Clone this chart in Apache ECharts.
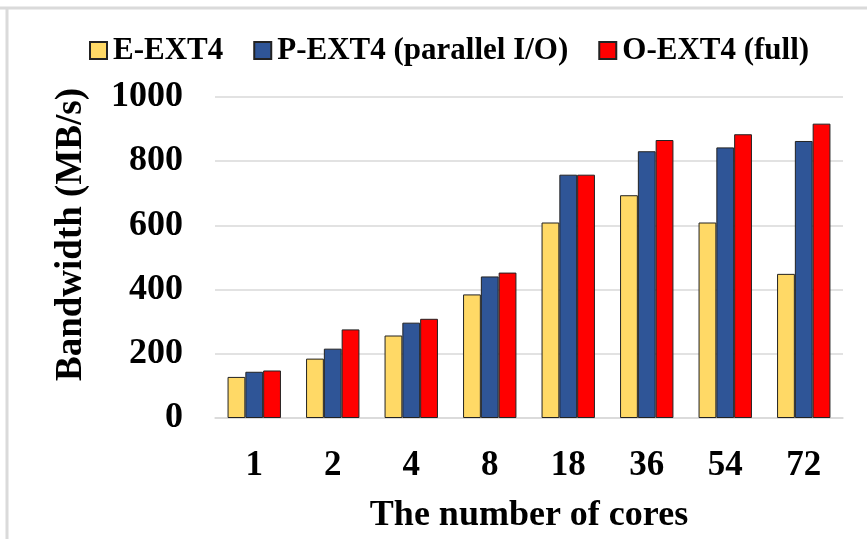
<!DOCTYPE html>
<html>
<head>
<meta charset="utf-8">
<script src="https://cdn.jsdelivr.net/npm/echarts@6/dist/echarts.min.js"></script>
<style>
  html, body { margin: 0; padding: 0; background: #fff; }
  #chart { width: 867px; height: 539px; }
</style>
</head>
<body>
<div id="chart"></div>
<script>
// cores on the x axis
var cores = ['1', '2', '4', '8', '18', '36', '54', '72'];
// bandwidth in MB/s
var eExt4 = [128, 185, 257, 385, 609, 694, 609, 449];
var pExt4 = [144, 216, 297, 441, 758, 831, 843, 863];
var oExt4 = [148, 276, 309, 453, 758, 866, 884, 917];
var seriesNames = ['E-EXT4', 'P-EXT4 (parallel I/O)', 'O-EXT4 (full)'];

var font = 'Liberation Serif, Times New Roman, serif';
var myChart = echarts.init(document.getElementById('chart'));

function bar(name, data, color) {
    return {
        name: name,
        type: 'bar',
        data: data,
        barGap: '0%',
        barCategoryGap: '32%',
        itemStyle: {
            color: color,
            borderColor: '#222',
            borderWidth: 1
        }
    };
}

var option = {
    animation: false,
    backgroundColor: '#fff',
    // grey frame from the original screenshot
    graphic: [
        { type: 'line', shape: { x1: 0, y1: 8, x2: 867, y2: 8 }, style: { stroke: '#dadada', lineWidth: 3 } },
        { type: 'line', shape: { x1: 7, y1: 8, x2: 7, y2: 539 }, style: { stroke: '#dadada', lineWidth: 3 } }
    ],
    legend: {
        top: 30,
        left: 84,
        icon: 'rect',
        itemWidth: 17,
        itemHeight: 17,
        itemGap: 30,
        textStyle: { fontFamily: font, fontWeight: 'bold', fontSize: 31, color: '#000', padding: [0, 0, 0, 1] },
        data: seriesNames
    },
    grid: { left: 215, right: 24, top: 97, bottom: 117 },
    xAxis: {
        type: 'category',
        data: cores,
        name: 'The number of cores',
        nameLocation: 'middle',
        nameGap: 80,
        nameTextStyle: { fontFamily: font, fontWeight: 'bold', fontSize: 36, color: '#000' },
        axisLine: { lineStyle: { color: '#d9d9d9', width: 1.5 } },
        axisTick: { show: false },
        axisLabel: { fontFamily: font, fontWeight: 'bold', fontSize: 35, color: '#000', margin: 30 }
    },
    yAxis: {
        type: 'value',
        min: 0,
        max: 1000,
        interval: 200,
        name: 'Bandwidth (MB/s)',
        nameLocation: 'middle',
        nameGap: 125,
        nameTextStyle: {
            fontFamily: font, fontWeight: 'bold', fontSize: 37, color: '#000',
            padding: [0, 0, 0, 46]
        },
        axisLine: { show: false },
        axisTick: { show: false },
        splitLine: { lineStyle: { color: '#d9d9d9', width: 1.5 } },
        axisLabel: {
            fontFamily: font, fontWeight: 'bold', fontSize: 36, color: '#000', margin: 32,
            formatter: function (v) { return String(v); }
        }
    },
    series: [
        bar(seriesNames[0], eExt4, '#ffd966'),
        bar(seriesNames[1], pExt4, '#2f5597'),
        bar(seriesNames[2], oExt4, '#ff0000')
    ]
};

myChart.setOption(option);
</script>
</body>
</html>
